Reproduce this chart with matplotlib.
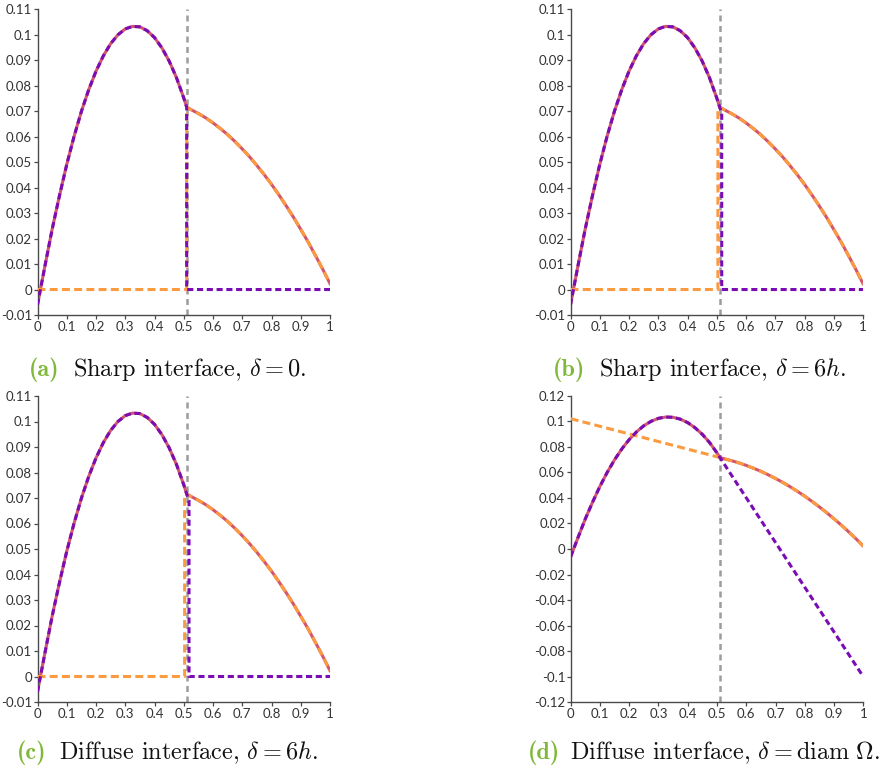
import numpy as np
import matplotlib
matplotlib.use("Agg")
import matplotlib.pyplot as plt

# ---------------------------------------------------------
# values
# ---------------------------------------------------------
interface = 0.51

# exact solution, left of the interface
x_left = [0.0, 0.025, 0.05, 0.075, 0.1, 0.125, 0.15, 0.175, 0.2, 0.225, 0.25,
          0.275, 0.3, 0.325, 0.35, 0.375, 0.4, 0.425, 0.45, 0.475, 0.5, 0.51]
u_left = [-0.0060, 0.0090, 0.0236, 0.0368, 0.0491, 0.0601, 0.0699, 0.0784,
          0.0857, 0.0917, 0.0965, 0.1000, 0.1023, 0.1033, 0.1031, 0.1016,
          0.0989, 0.0949, 0.0897, 0.0832, 0.0752, 0.0716]

# exact solution, right of the interface
x_right = [0.51, 0.525, 0.55, 0.575, 0.6, 0.625, 0.65, 0.675, 0.7, 0.725,
           0.75, 0.775, 0.8, 0.825, 0.85, 0.875, 0.9, 0.925, 0.95, 0.975, 1.0]
u_right = [0.0716, 0.0706, 0.0691, 0.0674, 0.0654, 0.0632, 0.0608, 0.0581,
           0.0552, 0.0521, 0.0487, 0.0451, 0.0413, 0.0372, 0.0329, 0.0284,
           0.0236, 0.0187, 0.0134, 0.0080, 0.0023]

# jump positions of the two phase solutions, panels (a), (b), (c)
orange_jump = [0.510, 0.504, 0.503]
purple_jump = [0.510, 0.517, 0.518]
purple_jump_top = [0.0716, 0.0692, 0.0690]

# panel (d): linear extensions
orange_ext_x = [0.0, 0.51]
orange_ext_y = [0.102, 0.0716]
purple_ext_x = [0.51, 1.0]
purple_ext_y = [0.0716, -0.100]

x_ticks = [0, 0.1, 0.2, 0.3, 0.4, 0.5, 0.6, 0.7, 0.8, 0.9, 1]
x_labels = ["0", "0.1", "0.2", "0.3", "0.4", "0.5", "0.6", "0.7", "0.8", "0.9", "1"]
y_ticks_abc = [-0.01, 0, 0.01, 0.02, 0.03, 0.04, 0.05, 0.06, 0.07, 0.08, 0.09, 0.1, 0.11]
y_labels_abc = ["-0.01", "0", "0.01", "0.02", "0.03", "0.04", "0.05", "0.06",
                "0.07", "0.08", "0.09", "0.1", "0.11"]
y_ticks_d = [-0.12, -0.1, -0.08, -0.06, -0.04, -0.02, 0, 0.02, 0.04, 0.06, 0.08, 0.1, 0.12]
y_labels_d = ["-0.12", "-0.1", "-0.08", "-0.06", "-0.04", "-0.02", "0", "0.02",
              "0.04", "0.06", "0.08", "0.1", "0.12"]

tags = ["(a)", "(b)", "(c)", "(d)"]
captions = [r"Sharp interface, $\delta = 0$.",
            r"Sharp interface, $\delta = 6h$.",
            r"Diffuse interface, $\delta = 6h$.",
            r"Diffuse interface, $\delta = \mathrm{diam}\ \mathit{\Omega}$."]

# ---------------------------------------------------------
# styles
# ---------------------------------------------------------
c_exact = "#d2566e"
c_orange = "#fb9a3e"
c_purple = "#7a0cb4"
c_gray = "#9c9c9c"
c_axis = "#4a4a4a"
c_tag = "#80b83a"

plt.rcParams["mathtext.fontset"] = "cm"
plt.rcParams["axes.unicode_minus"] = False

fig = plt.figure(figsize=(8.89, 7.71), dpi=100)
W, H = 889.0, 771.0

# axes boxes in pixels: left, right, top, bottom
boxes = [(37.5, 330.0, 9.3, 315.0),
         (570.5, 863.0, 9.3, 315.0),
         (37.5, 330.0, 396.0, 702.0),
         (570.7, 863.3, 395.7, 702.3)]


def make_axes(box):
    l, r, t, b = box
    ax = fig.add_axes([l / W, 1 - b / H, (r - l) / W, (b - t) / H])
    ax.spines["top"].set_visible(False)
    ax.spines["right"].set_visible(False)
    for s in ("left", "bottom"):
        ax.spines[s].set_color(c_axis)
        ax.spines[s].set_linewidth(1.0)
    ax.tick_params(direction="out", length=3, width=0.9, color=c_axis,
                   labelsize=9.5, labelcolor="#333333", pad=1)
    ax.set_xlim(0, 1)
    ax.set_xticks(x_ticks)
    ax.set_xticklabels(x_labels, family="Lato")
    return ax


exact_x = x_left + x_right[1:]
exact_y = u_left + u_right[1:]

for i, box in enumerate(boxes):
    ax = make_axes(box)
    ax.axvline(interface, color=c_gray, lw=1.8, dashes=(2.4, 1.8), zorder=1)
    ax.plot(exact_x, exact_y, color=c_exact, lw=2.2, zorder=2)
    if i < 3:
        xo = orange_jump[i]
        ox = [0.0, xo, xo] + x_right
        oy = [0.0, 0.0, u_right[0]] + u_right
        xp = purple_jump[i]
        px = x_left + [xp, xp, 1.0]
        py = u_left + [purple_jump_top[i], 0.0, 0.0]
        ax.set_ylim(-0.01, 0.11)
        ax.set_yticks(y_ticks_abc)
        ax.set_yticklabels(y_labels_abc, family="Lato")
    else:
        ox = orange_ext_x + x_right[1:]
        oy = orange_ext_y + u_right[1:]
        px = x_left + purple_ext_x[1:]
        py = u_left + purple_ext_y[1:]
        ax.set_ylim(-0.12, 0.12)
        ax.set_yticks(y_ticks_d)
        ax.set_yticklabels(y_labels_d, family="Lato")
    ax.plot(ox, oy, color=c_orange, lw=2.2, dashes=(2.6, 1.4), zorder=3)
    ax.plot(px, py, color=c_purple, lw=2.2, dashes=(2.0, 1.2), zorder=4)

# captions: tag left edge, text left edge, baseline (pixels)
cap_pos = [(29, 73, 376), (553, 599, 376), (17, 59, 759), (528, 570, 759)]
for tag, cap, (xt, xc, yb) in zip(tags, captions, cap_pos):
    fig.text(xt / W, 1 - yb / H, tag, family="cmb10", fontsize=17.5,
             color=c_tag, ha="left", va="baseline")
    fig.text(xc / W, 1 - yb / H, cap, family="cmr10", fontsize=17.5,
             color="#111111", ha="left", va="baseline")

fig.savefig("out.png", dpi=100)
